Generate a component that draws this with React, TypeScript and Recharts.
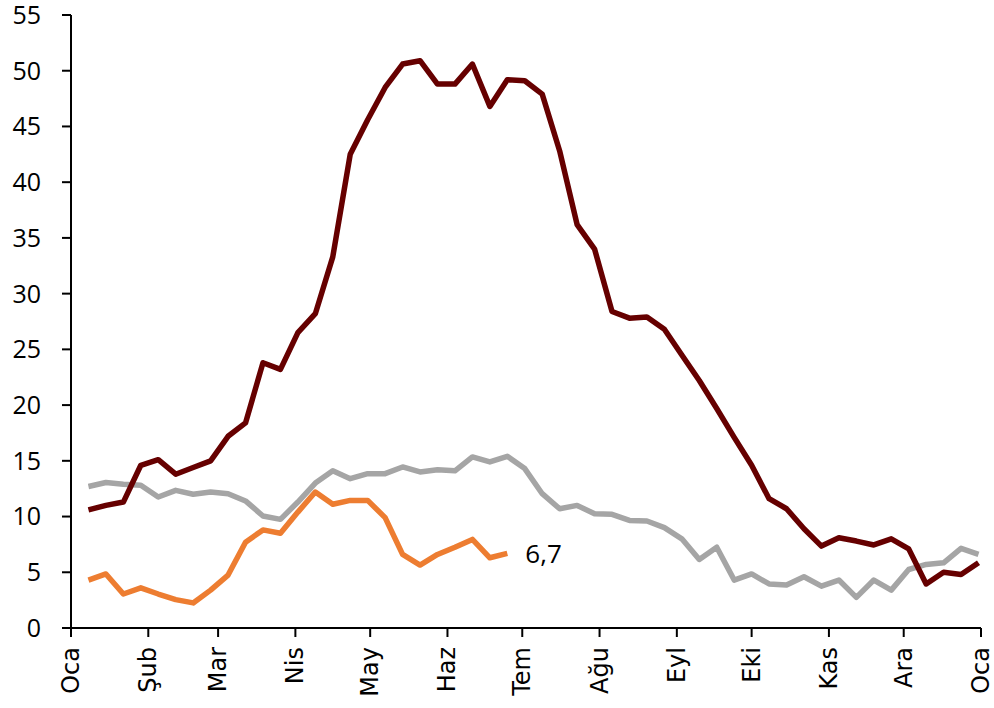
import { LineChart, Line, XAxis, YAxis } from 'recharts';

// day of year for each weekly point
const weekDays = [
  7, 14, 21, 28, 35, 42, 49, 56, 63, 70, 77, 84, 91, 98, 105, 112, 119, 126, 133, 140,
  147, 154, 161, 168, 175, 182, 189, 196, 203, 210, 217, 224, 231, 238, 245, 252, 259,
  266, 273, 280, 287, 294, 301, 308, 315, 322, 329, 336, 343, 350, 357, 364,
];

const darkSeries = [
  10.6, 11.0, 11.3, 14.6, 15.1, 13.8, 14.4, 15.0, 17.2, 18.4, 23.8, 23.2, 26.5, 28.2,
  33.3, 42.5, 45.6, 48.5, 50.6, 50.9, 48.8, 48.8, 50.6, 46.8, 49.2, 49.1, 47.9, 42.8,
  36.2, 34.0, 28.4, 27.8, 27.9, 26.8, 24.5, 22.2, 19.7, 17.1, 14.6, 11.6, 10.7, 8.9,
  7.35, 8.1, 7.8, 7.45, 8.0, 7.1, 3.95, 5.0, 4.8, 5.85,
];

const graySeries = [
  12.7, 13.05, 12.9, 12.8, 11.75, 12.35, 12.0, 12.2, 12.05, 11.4, 10.05, 9.75, 11.3,
  13.0, 14.1, 13.4, 13.85, 13.85, 14.45, 14.0, 14.2, 14.1, 15.35, 14.9, 15.4, 14.3,
  12.05, 10.7, 11.0, 10.25, 10.2, 9.65, 9.6, 9.0, 8.0, 6.15, 7.25, 4.3, 4.85, 3.95,
  3.85, 4.6, 3.75, 4.3, 2.75, 4.3, 3.4, 5.25, 5.7, 5.85, 7.15, 6.6,
];

const orangeSeries = [
  4.3, 4.85, 3.05, 3.6, 3.05, 2.55, 2.25, 3.4, 4.75, 7.7, 8.8, 8.5, 10.4, 12.2, 11.1,
  11.45, 11.45, 9.9, 6.6, 5.65, 6.6, 7.25, 7.95, 6.3, 6.7,
];

const monthStarts = [0, 31, 59, 90, 120, 151, 181, 212, 243, 273, 304, 334, 365];
const monthLabels = ['Oca', 'Şub', 'Mar', 'Nis', 'May', 'Haz', 'Tem', 'Ağu', 'Eyl', 'Eki', 'Kas', 'Ara', 'Oca'];
const yTicks = [0, 5, 10, 15, 20, 25, 30, 35, 40, 45, 50, 55];

const data = weekDays.map((day, i) => ({
  day,
  dark: darkSeries[i],
  gray: graySeries[i],
  orange: orangeSeries[i],
}));

const MonthTick = (props: any) => {
  const { x, y, payload } = props;
  const idx = monthStarts.indexOf(payload.value);
  return (
    <g transform={`translate(${x},${y})`}>
      <text
        transform="rotate(-90)"
        x={-8}
        y={0}
        textAnchor="end"
        dominantBaseline="central"
        fontFamily="DejaVu Sans"
        fontSize={24}
        fill="#000"
      >
        {monthLabels[idx]}
      </text>
    </g>
  );
};

const LastLabel = (props: any) => {
  const { x, y, index, value } = props;
  if (index !== orangeSeries.length - 1) return null;
  return (
    <text
      x={x + 18}
      y={y}
      dominantBaseline="central"
      fontFamily="Open Sans"
      fontSize={26}
      fill="#000"
    >
      {String(value).replace('.', ',')}
    </text>
  );
};

export default function App() {
  return (
    <div style={{ position: 'absolute', top: 0, left: 0, background: '#fff' }}>
      <LineChart width={994} height={708} data={data} margin={{ top: 15, right: 13, bottom: 0, left: 0 }}>
        <XAxis
          dataKey="day"
          type="number"
          domain={[0, 365]}
          ticks={monthStarts}
          interval={0}
          tickSize={9}
          tickMargin={2}
          height={80}
          tick={<MonthTick />}
          axisLine={{ stroke: '#000', strokeWidth: 2 }}
          tickLine={{ stroke: '#000', strokeWidth: 2 }}
        />
        <YAxis
          type="number"
          domain={[0, 55]}
          ticks={yTicks}
          interval={0}
          width={71}
          tickSize={9}
          tickMargin={21}
          tick={{ fontFamily: 'Open Sans', fontSize: 25, fill: '#000' }}
          axisLine={{ stroke: '#000', strokeWidth: 2 }}
          tickLine={{ stroke: '#000', strokeWidth: 2 }}
        />
        <Line
          dataKey="gray"
          stroke="#A5A5A5"
          strokeWidth={5.5}
          dot={false}
          strokeLinejoin="round"
          isAnimationActive={false}
        />
        <Line
          dataKey="orange"
          stroke="#ED7D31"
          strokeWidth={5.5}
          dot={false}
          strokeLinejoin="round"
          label={<LastLabel />}
          isAnimationActive={false}
        />
        <Line
          dataKey="dark"
          stroke="#660000"
          strokeWidth={5.5}
          dot={false}
          strokeLinejoin="round"
          isAnimationActive={false}
        />
      </LineChart>
    </div>
  );
}
